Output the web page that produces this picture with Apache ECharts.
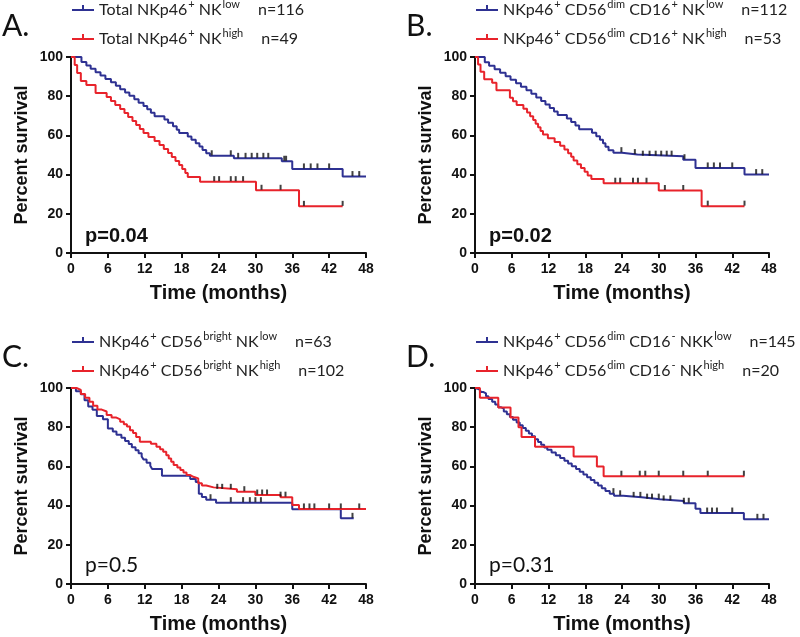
<!DOCTYPE html>
<html>
<head>
<meta charset="utf-8">
<script src="https://cdn.jsdelivr.net/npm/echarts@6/dist/echarts.min.js"></script>
<style>
  html, body { margin: 0; padding: 0; background: #fff; }
  #chart { width: 800px; height: 637px; }
</style>
</head>
<body>
<div id="chart"></div>
<script>
// Kaplan-Meier curves, [months, percent survival] after each event
const aLow = [[0,100],[1.7,97.4],[2.5,95.7],[3.2,94.0],[4.0,92.2],[4.8,90.5],[5.6,88.8],[6.5,87.1],[7.3,85.3],[8.0,83.6],[8.8,81.9],[9.5,80.2],[10.3,78.4],[11.0,76.7],[11.8,75.0],[12.4,73.3],[13.0,71.6],[13.6,69.8],[15.2,68.1],[15.8,66.4],[16.6,64.7],[17.2,62.9],[17.6,61.2],[19.0,59.5],[19.6,57.8],[20.3,56.0],[20.9,54.3],[21.4,52.6],[22.0,50.9],[22.6,49.6],[26.5,48.3],[34.3,46.8],[36.0,42.9],[44.2,39.0],[48,39.0]];
const aHigh = [[0,100],[0.6,95.9],[1.0,91.8],[1.6,87.8],[2.5,85.7],[4.0,81.6],[5.8,79.6],[6.5,77.5],[7.2,75.5],[8.0,73.5],[8.7,71.4],[9.3,69.4],[10.0,67.3],[10.6,65.3],[11.2,63.3],[11.8,61.2],[12.6,59.2],[13.6,57.1],[14.4,55.1],[15.1,53.1],[15.8,51.0],[16.4,49.0],[17.0,47.0],[17.6,44.9],[18.1,42.9],[18.6,40.8],[19.0,38.8],[21.0,36.4],[30.1,32.0],[37.1,23.8],[44.2,23.8]];
const bLow = [[0,100],[1.6,97.3],[2.3,95.5],[3.2,93.8],[4.1,92.0],[5.0,90.2],[5.8,88.4],[6.7,86.6],[7.5,84.8],[8.4,83.0],[9.2,81.2],[10.0,79.4],[10.8,77.6],[11.5,75.8],[12.2,74.0],[12.9,72.2],[13.5,70.4],[15.0,68.6],[15.7,66.8],[16.4,65.0],[17.0,63.2],[19.1,61.4],[19.8,59.6],[20.4,57.8],[20.9,56.0],[21.3,54.2],[21.8,52.4],[22.6,51.2],[24.0,50.2],[26.5,49.4],[34.0,47.6],[36.0,43.4],[44.0,40.0],[48,40.0]];
const bHigh = [[0,100],[0.5,96.2],[0.9,92.5],[1.5,88.7],[2.8,86.8],[3.5,83.0],[5.7,79.2],[6.2,77.4],[6.8,75.5],[7.9,73.6],[8.5,71.7],[9.0,69.8],[9.5,67.9],[9.9,66.0],[10.3,64.2],[10.7,62.3],[11.1,60.4],[11.9,58.5],[13.0,56.6],[13.9,54.7],[14.6,52.8],[15.2,50.9],[15.7,49.1],[16.1,47.2],[16.7,45.3],[17.3,43.4],[17.9,41.5],[18.4,39.6],[19.0,37.7],[21.0,35.6],[30.0,31.9],[37.0,23.9],[44.0,23.9]];
const cLow = [[0,100],[0.8,98.4],[1.6,96.8],[2.2,93.7],[2.8,90.5],[3.5,88.9],[4.2,85.7],[5.2,84.1],[6.0,79.4],[6.8,77.8],[7.4,76.2],[8.2,74.6],[8.8,73.0],[9.4,71.4],[9.9,69.8],[10.5,68.3],[11.0,66.7],[11.5,65.1],[11.8,63.5],[12.3,61.9],[12.9,60.3],[13.2,58.7],[14.8,55.2],[19.4,53.6],[20.3,52.0],[20.8,46.0],[21.3,44.4],[22.0,43.0],[23.6,41.5],[36.0,38.1],[43.9,33.5],[46.0,33.5]];
const cHigh = [[0,100],[0.9,99.0],[1.6,97.0],[2.3,95.0],[3.0,93.0],[3.6,91.0],[4.3,89.0],[5.0,88.0],[5.8,86.2],[6.6,85.0],[7.3,84.0],[8.0,82.8],[8.6,81.5],[9.1,80.3],[9.6,78.5],[10.1,77.0],[10.6,75.0],[11.2,72.6],[13.0,71.5],[13.9,70.0],[14.5,68.7],[15.0,67.5],[15.5,65.7],[15.9,64.0],[16.3,62.4],[16.7,60.7],[17.3,59.4],[17.8,58.2],[18.3,56.9],[18.8,55.6],[19.4,54.7],[19.9,53.9],[20.7,51.4],[21.3,50.3],[22.0,49.3],[23.2,48.3],[27.0,47.1],[30.0,45.4],[34.1,44.3],[36.0,40.3],[37.1,38.3],[48,38.3]];
const dLow = [[0,100],[0.3,99.3],[0.7,98.6],[1.0,97.9],[1.4,97.2],[1.8,95.8],[2.2,94.4],[2.8,93.0],[3.3,91.6],[3.8,90.2],[4.2,89.5],[4.7,88.0],[5.2,86.6],[5.7,85.2],[6.2,83.8],[6.8,82.4],[7.3,81.0],[7.8,79.6],[8.3,78.2],[8.8,76.8],[9.3,75.4],[9.8,73.9],[10.3,72.5],[10.8,71.1],[11.3,69.7],[11.8,68.5],[12.5,67.1],[13.2,65.7],[13.9,64.3],[14.6,62.9],[15.2,61.5],[15.8,60.1],[16.5,58.7],[17.1,57.3],[17.7,55.9],[18.3,54.5],[18.9,53.1],[19.5,51.7],[20.1,50.3],[20.7,48.9],[21.3,47.5],[22.0,46.1],[22.7,45.0],[24.2,44.2],[27.2,43.3],[30.2,42.4],[34.1,41.2],[36.0,38.4],[36.8,36.2],[43.9,33.0],[48,33.0]];
const dHigh = [[0,100],[0.8,95],[3.8,90],[5.8,85],[7.1,80],[7.6,75],[9.8,70],[16.1,65],[19.9,60],[21.0,55],[44.0,55]];

// censored observations (months)
const aLowCens = [22.9,26.0,27.2,28.4,29.4,30.3,31.3,32.1,34.7,35.0,37.9,39.0,40.1,42.0,45.8,46.9];
const aHighCens = [23.3,24.1,26.0,26.8,28.0,31.0,34.1,37.9,44.2];
const bLowCens = [23.9,26.1,27.4,28.5,29.5,30.4,31.3,32.1,34.2,38.0,39.0,40.0,42.0,45.9,46.9];
const bHighCens = [22.9,23.7,25.8,26.6,28.0,31.0,34.0,38.0,44.0];
const cLowCens = [22.7,26.0,28.0,29.1,30.0,30.9,45.8];
const cHighCens = [23.8,24.6,26.0,28.2,30.3,31.1,31.9,34.1,34.9,37.9,38.8,39.6,42.0,43.9,46.9];
const dLowCens = [22.6,23.7,25.9,27.0,28.1,28.9,30.0,30.8,31.9,34.1,34.9,37.9,38.7,39.5,42.0,46.1,47.1];
const dHighCens = [23.9,26.9,27.8,30.0,34.0,38.0,43.9];

const xTicks = [0, 6, 12, 18, 24, 30, 36, 42, 48];
const yTicks = [0, 20, 40, 60, 80, 100];

const panelLetters = ['A.', 'B.', 'C.', 'D.'];
const pValues = ['p=0.04', 'p=0.02', 'p=0.5', 'p=0.31'];
const legendLow = [
  '{t|Total NKp46}{s|+}{t| NK}{s|low}{n|n=116}',
  '{t|NKp46}{s|+}{t| CD56}{s|dim}{t| CD16}{s|+}{t| NK}{s|low}{n|n=112}',
  '{t|NKp46}{s|+}{t| CD56}{s|bright}{t| NK}{s|low}{n|n=63}',
  '{t|NKp46}{s|+}{t| CD56}{s|dim}{t| CD16}{s|-}{t| NKK}{s|low}{n|n=145}'
];
const legendHigh = [
  '{t|Total NKp46}{s|+}{t| NK}{s|high}{n|n=49}',
  '{t|NKp46}{s|+}{t| CD56}{s|dim}{t| CD16}{s|+}{t| NK}{s|high}{n|n=53}',
  '{t|NKp46}{s|+}{t| CD56}{s|bright}{t| NK}{s|high}{n|n=102}',
  '{t|NKp46}{s|+}{t| CD56}{s|dim}{t| CD16}{s|-}{t| NK}{s|high}{n|n=20}'
];

const lowCurves = [aLow, bLow, cLow, dLow];
const highCurves = [aHigh, bHigh, cHigh, dHigh];
const lowCens = [aLowCens, bLowCens, cLowCens, dLowCens];
const highCens = [aHighCens, bHighCens, cHighCens, dHighCens];

const BLUE = '#2e3192';
const RED = '#e8232b';
const AXIS = '#111';

// plot boxes
const boxes = [
  { left: 71, top: 57, width: 295, height: 196 },
  { left: 475, top: 57, width: 294, height: 196 },
  { left: 71, top: 388, width: 295, height: 196 },
  { left: 475, top: 388, width: 294, height: 196 }
];

function survAt(curve, t) {
  let s = 100;
  for (const p of curve) if (p[0] <= t) s = p[1];
  return s;
}

const rich = {
  t: { fontFamily: 'Lato', fontSize: 16, color: '#222', lineHeight: 20, verticalAlign: 'bottom' },
  s: { fontFamily: 'Lato', fontSize: 11, color: '#222', lineHeight: 20, verticalAlign: 'top', padding: [1, 0, 0, 1] },
  n: { fontFamily: 'Lato', fontSize: 16, color: '#222', lineHeight: 20, verticalAlign: 'bottom', padding: [0, 0, 0, 18] }
};

const legendIcon = 'path://M0,6h22v2h-22z M10,2h2v4h-2z';

let grid = [], xAxis = [], yAxis = [], series = [], legend = [], graphic = [];

boxes.forEach((b, i) => {
  grid.push({ left: b.left, top: b.top, width: b.width, height: b.height });
  xAxis.push({
    gridIndex: i, type: 'value', min: 0, max: 48, interval: 6,
    name: 'Time (months)', nameLocation: 'middle', nameGap: 30,
    nameTextStyle: { fontFamily: 'Liberation Sans', fontWeight: 'bold', fontSize: 20, color: AXIS },
    axisLine: { lineStyle: { color: AXIS, width: 2 } },
    axisTick: { length: 5, lineStyle: { color: AXIS, width: 2 } },
    axisLabel: { margin: 9, fontFamily: 'Liberation Sans', fontWeight: 'bold', fontSize: 14, color: AXIS,
      formatter: v => xTicks.includes(v) ? String(v) : '' },
    splitLine: { show: false }
  });
  yAxis.push({
    gridIndex: i, type: 'value', min: 0, max: 100, interval: 20,
    name: 'Percent survival', nameLocation: 'middle', nameGap: 40,
    nameTextStyle: { fontFamily: 'Liberation Sans', fontWeight: 'bold', fontSize: 18, color: AXIS },
    axisLine: { show: true, lineStyle: { color: AXIS, width: 2 } },
    axisTick: { show: true, length: 5, lineStyle: { color: AXIS, width: 2 } },
    axisLabel: { margin: 8, fontFamily: 'Liberation Sans', fontWeight: 'bold', fontSize: 14, color: AXIS,
      formatter: v => yTicks.includes(v) ? String(v) : '' },
    splitLine: { show: false }
  });

  const lowName = 'low' + i, highName = 'high' + i;
  [[lowName, lowCurves[i], lowCens[i], BLUE], [highName, highCurves[i], highCens[i], RED]].forEach(([name, curve, cens, color]) => {
    series.push({
      name, type: 'line', step: 'end', xAxisIndex: i, yAxisIndex: i,
      data: curve, showSymbol: false, color,
      lineStyle: { color, width: 2 }, z: 2
    });
    series.push({
      name, type: 'scatter', xAxisIndex: i, yAxisIndex: i,
      data: cens.map(t => [t, survAt(curve, t)]),
      symbol: 'rect', symbolSize: [2, 5], symbolOffset: [0, -3],
      itemStyle: { color: '#111' }, z: 3
    });
  });

  legend.push({
    left: b.left + 1, top: b.top - 57 + (i < 2 ? -2 : -1),
    orient: 'vertical', padding: 0, itemGap: 9,
    itemWidth: 22, itemHeight: 8,
    icon: legendIcon,
    data: [lowName, highName],
    selectedMode: false,
    formatter: name => name === lowName ? legendLow[i] : legendHigh[i],
    textStyle: { rich }
  });

  graphic.push({
    type: 'text', left: b.left - 69, top: b.top - 46,
    style: { text: panelLetters[i], fontFamily: 'Lato', fontSize: 30, fill: '#111' }
  });
  const bold = i < 2;
  graphic.push({
    type: 'text', left: b.left + 14, top: b.top + (bold ? 169 : 167),
    style: { text: pValues[i], fontFamily: bold ? 'Liberation Sans' : 'Lato',
      fontWeight: bold ? 'bold' : 'normal', fontSize: bold ? 20 : 21, fill: '#111' }
  });
});

const chart = echarts.init(document.getElementById('chart'));
chart.setOption({
  animation: false,
  backgroundColor: '#fff',
  grid, xAxis, yAxis, series, legend, graphic
});
</script>
</body>
</html>
